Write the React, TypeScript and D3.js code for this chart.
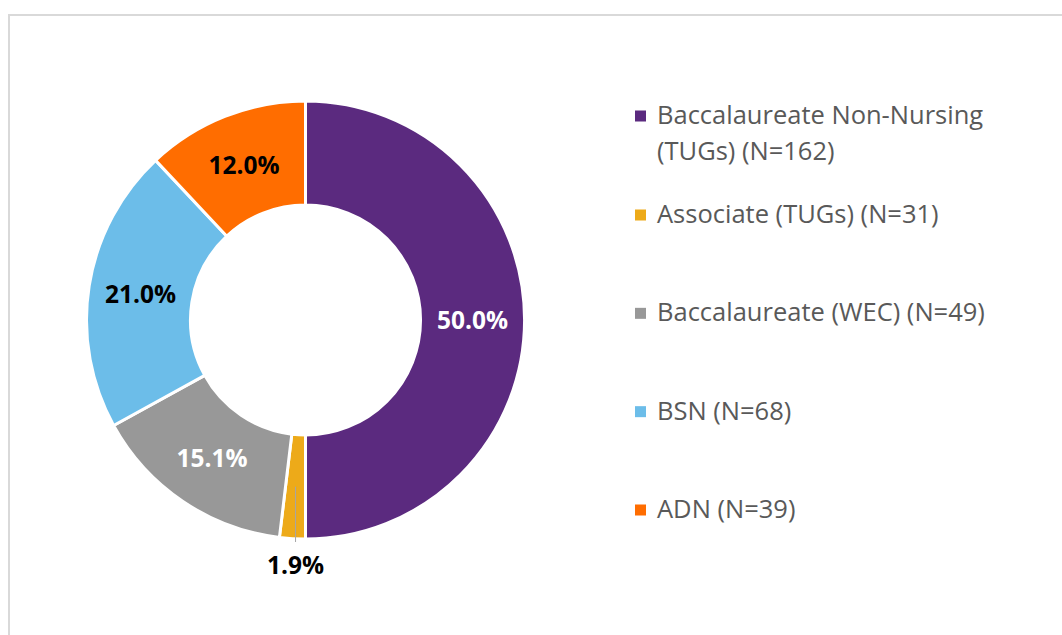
import React from "react";
import * as d3 from "d3";

const categories = [
  "Baccalaureate Non-Nursing (TUGs) (N=162)",
  "Associate (TUGs) (N=31)",
  "Baccalaureate (WEC) (N=49)",
  "BSN (N=68)",
  "ADN (N=39)",
];
const legendLines = [
  ["Baccalaureate Non-Nursing", "(TUGs) (N=162)"],
  ["Associate (TUGs) (N=31)"],
  ["Baccalaureate (WEC) (N=49)"],
  ["BSN (N=68)"],
  ["ADN (N=39)"],
];
const percents = [50.0, 1.9, 15.1, 21.0, 12.0];
const colors = ["#5B2A7F", "#EDAA19", "#989898", "#6CBDE9", "#FF6D00"];
const labelColors = ["#FFFFFF", "#000000", "#FFFFFF", "#000000", "#000000"];
const outsideLabel = [false, true, false, false, false];

const W = 1062;
const H = 635;
const cx = 305.5;
const cy = 320;
const rOuter = 219;
const rInner = 115;
const FONT = "'Open Sans', 'Noto Sans', sans-serif";

export default function App() {
  const pie = d3.pie<number>().sort(null).value((d) => d);
  const arcs = pie(percents);
  const arcGen = d3.arc<d3.PieArcDatum<number>>().innerRadius(rInner).outerRadius(rOuter);

  const legendX = 635;
  const firstBaseline = 124;
  const lineH = 36;
  const yScale = d3.scaleLinear().domain([1, 4]).range([223, 518]);
  const legendBaselines = categories.map((_, i) => (i === 0 ? firstBaseline : yScale(i)));

  return (
    <svg
      width={W}
      height={H}
      style={{ position: "absolute", left: 0, top: 0, background: "#fff" }}
      fontFamily={FONT}
    >
      <rect x={9} y={15} width={W + 20} height={H + 20} fill="#fff" stroke="#D9D9D9" strokeWidth={2} />
      <g transform={`translate(${cx},${cy})`}>
        {arcs.map((a, i) => (
          <path key={i} d={arcGen(a) || ""} fill={colors[i]} stroke="#fff" strokeWidth={3} strokeLinejoin="miter" />
        ))}
        {arcs.map((a, i) => {
          const [x, y] = arcGen.centroid(a);
          const txt = `${percents[i].toFixed(1)}%`;
          if (outsideLabel[i]) {
            return (
              <g key={i}>
                <line x1={x} y1={y} x2={x} y2={rOuter + 3} stroke="#A6A6A6" strokeWidth={1} />
                <text x={x} y={rOuter + 35} textAnchor="middle" fontSize={24.5} fontWeight="bold" fill={labelColors[i]}>
                  {txt}
                </text>
              </g>
            );
          }
          return (
            <text key={i} x={x} y={y} dy="0.36em" textAnchor="middle" fontSize={24.5} fontWeight="bold" fill={labelColors[i]}>
              {txt}
            </text>
          );
        })}
      </g>
      <g>
        {legendLines.map((lines, i) => (
          <g key={i}>
            <rect x={legendX} y={legendBaselines[i] - 13.5} width={11} height={11} fill={colors[i]} />
            <text x={legendX + 22} y={legendBaselines[i]} fontSize={25.5} fill="#595959">
              {lines.map((l, j) => (
                <tspan key={j} x={legendX + 22} y={legendBaselines[i] + j * lineH}>
                  {l}
                </tspan>
              ))}
            </text>
          </g>
        ))}
      </g>
    </svg>
  );
}
